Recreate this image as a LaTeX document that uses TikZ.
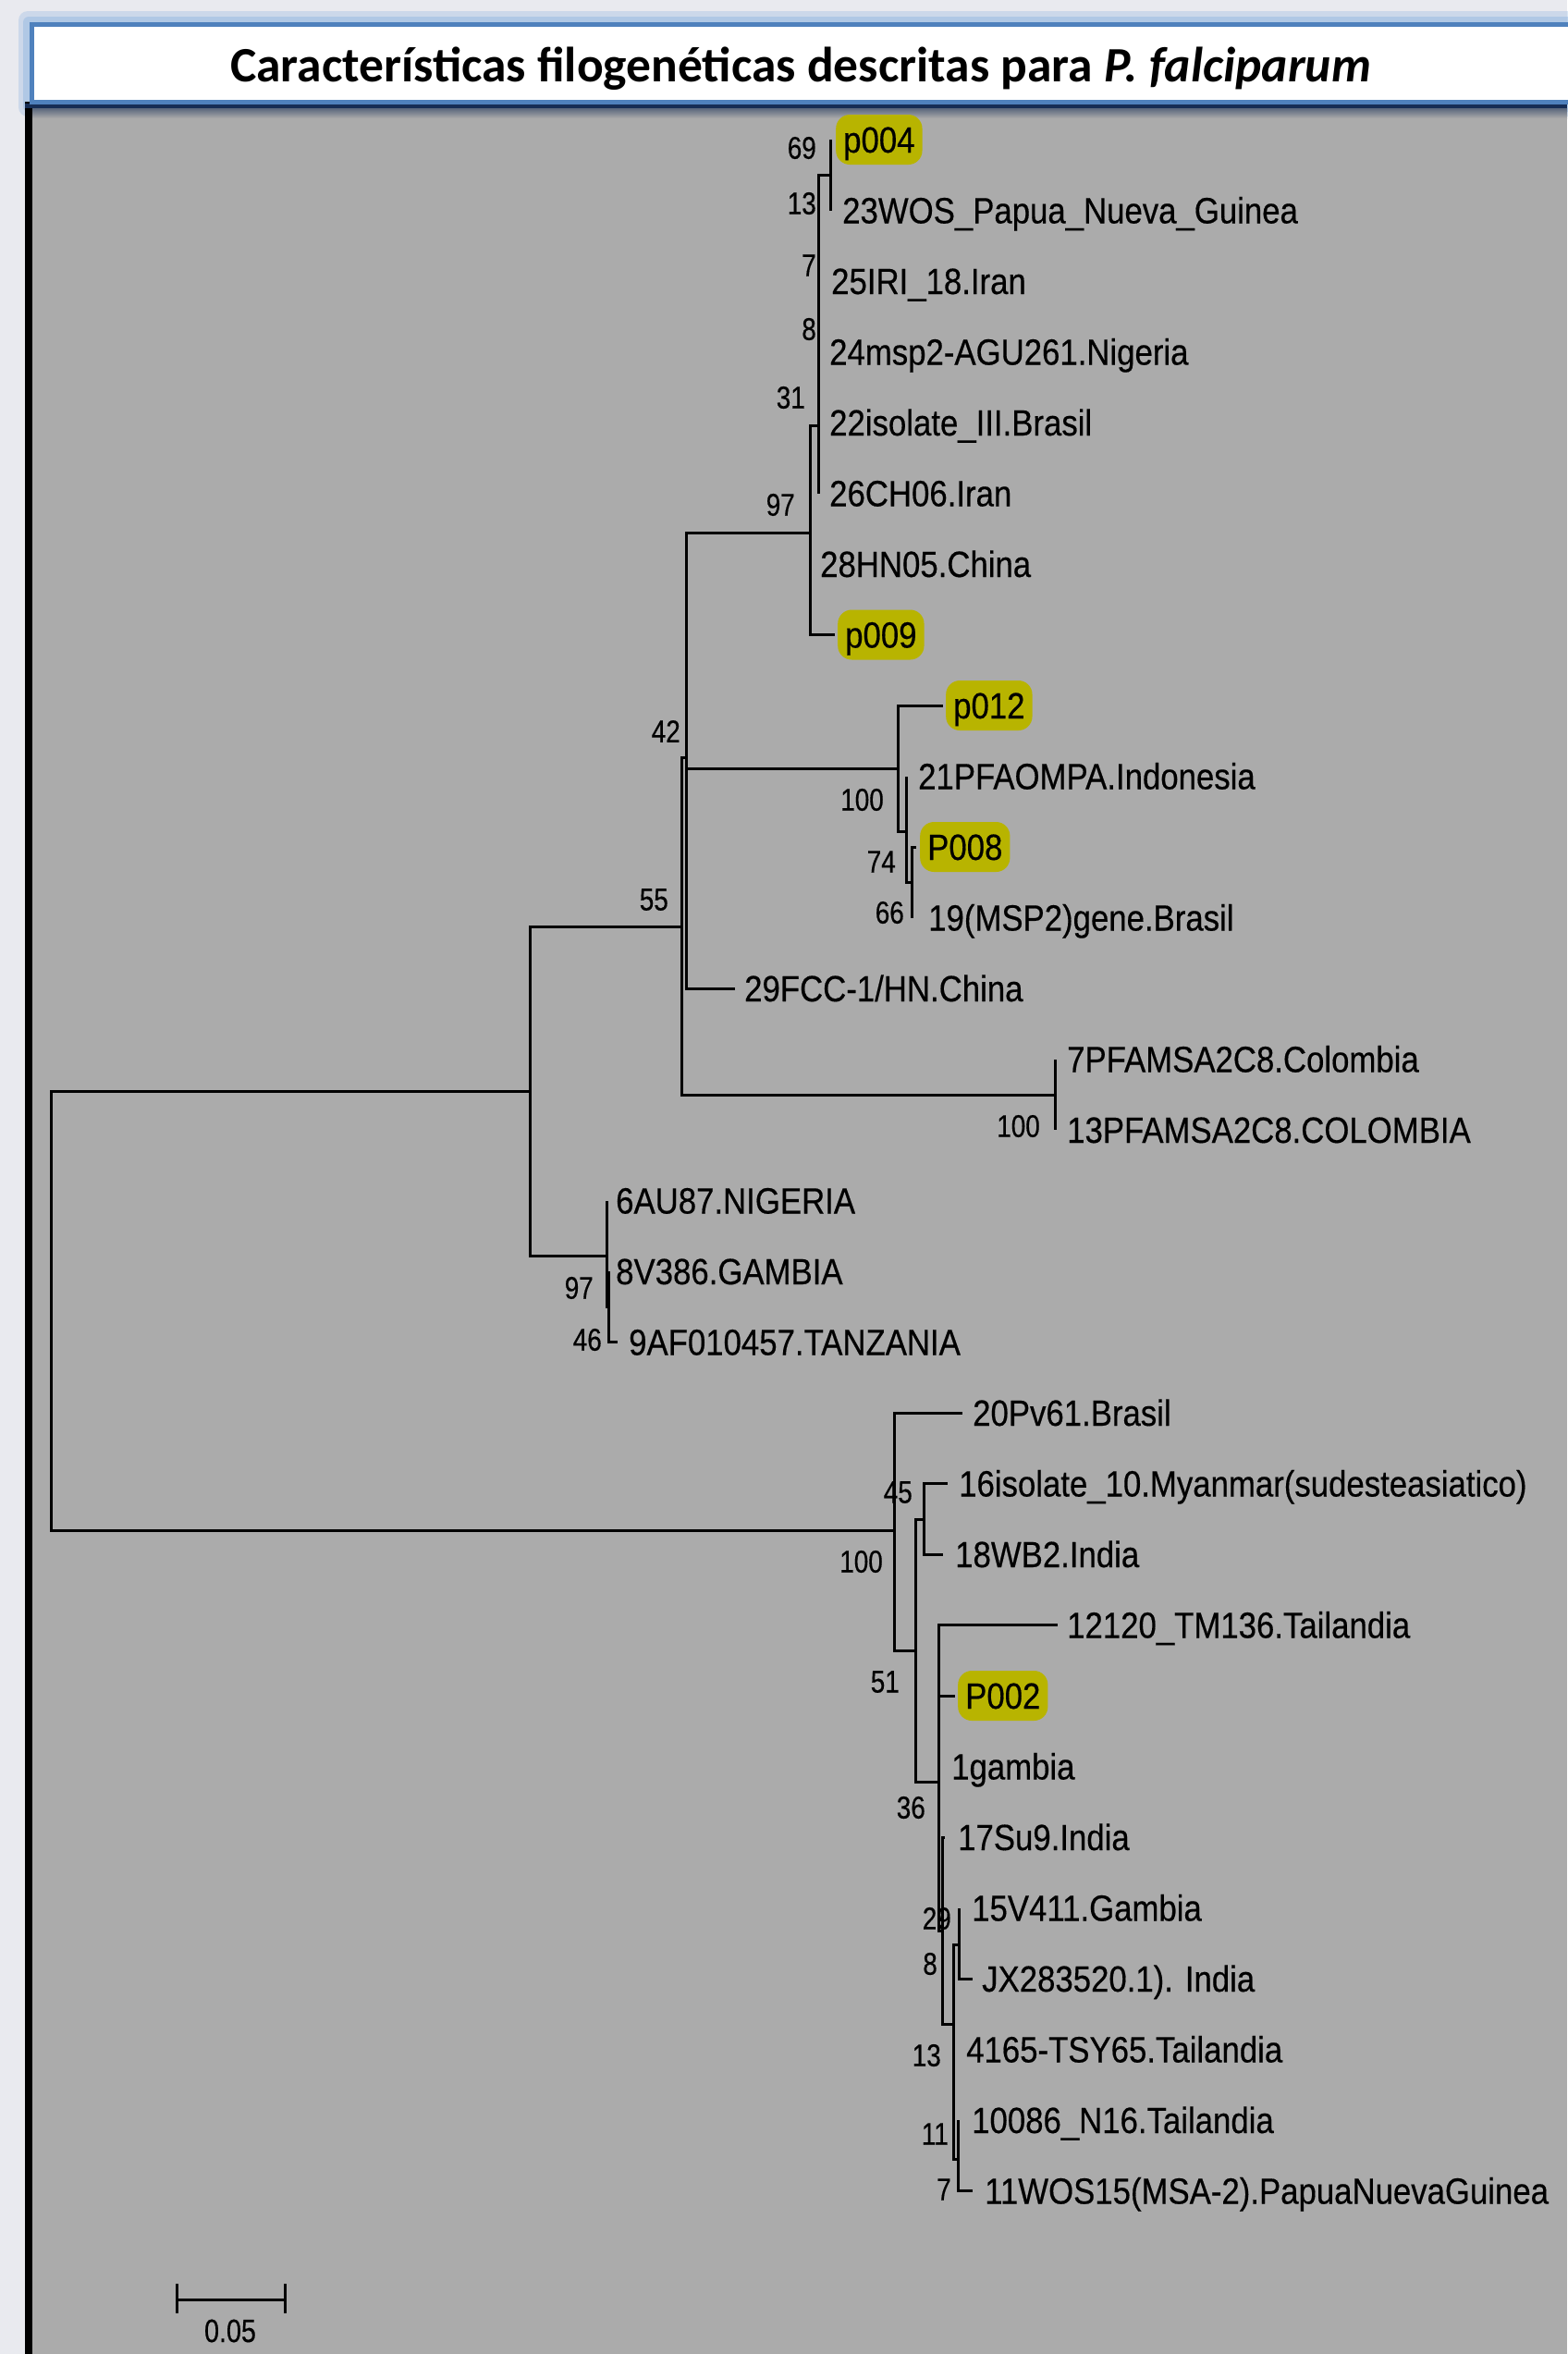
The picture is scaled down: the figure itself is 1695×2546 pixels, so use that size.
\documentclass[tikz,border=0pt]{standalone}
\usepackage{fontspec}
\setmainfont{Liberation Sans}
\newfontfamily\leaffont[FakeStretch=0.88,FakeBold=0.4]{Liberation Sans}
\newfontfamily\bsfont[FakeStretch=0.82,FakeBold=0.4]{Liberation Sans}
\newfontfamily\titlefont{Carlito}
\definecolor{bgc}{RGB}{233,234,239}
\definecolor{panelc}{RGB}{171,171,171}
\definecolor{hlc}{RGB}{184,180,0}
\definecolor{frameblue}{RGB}{79,129,189}
\definecolor{glowblue}{RGB}{150,185,225}
\definecolor{darkband}{RGB}{22,45,85}
\begin{document}
\begin{tikzpicture}[x=1pt,y=-1pt,
  br/.style={line width=3pt, black},
  leaf/.style={anchor=base west, inner sep=0pt, font=\leaffont\fontsize{39.5}{40}\selectfont},
  hl/.style={leaf, fill=hlc, rounded corners=15pt, inner xsep=8pt, inner ysep=13pt, text height=28pt, text depth=0pt},
  bs/.style={anchor=east, inner sep=0pt, font=\bsfont\fontsize{34}{35}\selectfont},
  titletext/.style={anchor=base, inner sep=0pt, font=\titlefont\bfseries\fontsize{53.5}{60}\selectfont}
]
\useasboundingbox (0,0) rectangle (1695,2546);
% background and frame
\fill[bgc] (0,0) rectangle (1695,2546);
\fill[glowblue, opacity=0.35, rounded corners=10pt] (20,12) rectangle (1710,126);
\fill[glowblue, opacity=0.5, rounded corners=6pt] (25,18) rectangle (1710,121);
\fill[panelc] (34,113) rectangle (1695,2546);
\fill[black] (27,110) rectangle (35,2546);
\fill[darkband] (27,112) rectangle (1695,117);
\shade[top color=darkband!55!panelc, bottom color=panelc] (35,117) rectangle (1695,128);
\draw[frameblue, line width=5pt, fill=white] (34.5,26.5) rectangle (1710,110.5);
\node[titletext] (title) at (866,88) {Características filogenéticas descritas para \textit{P. falciparum}};

% internal nodes
\coordinate (nR) at (55,1417.5);
\coordinate (nA) at (573,1180);
\coordinate (n55) at (737,1002);
\coordinate (n42) at (742,819);
\coordinate (n97) at (876,576);
\coordinate (n31) at (885,460);
\coordinate (n69) at (898,189);
\coordinate (n100a) at (971,831);
\coordinate (n74) at (980,899);
\coordinate (n66) at (986,954);
\coordinate (nCol) at (1141,1184);
\coordinate (n97b) at (656,1358);
\coordinate (n46) at (658,1413);
\coordinate (nB) at (967,1655);
\coordinate (n51) at (990,1785);
\coordinate (n45) at (999,1643);
\coordinate (n36) at (1015,1927);
\coordinate (n29) at (1019,2088);
\coordinate (n13) at (1031,2189);
\coordinate (n8) at (1037,2103);
\coordinate (n11) at (1036,2335);

% leaf tips
\coordinate (l1) at (898,151);
\coordinate (l2) at (898,227.5);
\coordinate (l3) at (885,304);
\coordinate (l4) at (885,380.5);
\coordinate (l5) at (885,457);
\coordinate (l6) at (885,533.5);
\coordinate (l7) at (876,610);
\coordinate (l8) at (903,686.5);
\coordinate (l9) at (1020,763);
\coordinate (l10) at (980,839.5);
\coordinate (l11) at (991,916);
\coordinate (l12) at (986,992.5);
\coordinate (l13) at (795,1069);
\coordinate (l14) at (1141,1145.5);
\coordinate (l15) at (1141,1222);
\coordinate (l16) at (656,1298.5);
\coordinate (l17) at (658,1375);
\coordinate (l18) at (668,1451.5);
\coordinate (l19) at (1041,1528);
\coordinate (l20) at (1025,1604.5);
\coordinate (l21) at (1020,1681);
\coordinate (l22) at (1144,1757.5);
\coordinate (l23) at (1033,1834);
\coordinate (l24) at (1015,1910.5);
\coordinate (l25) at (1022,1987);
\coordinate (l26) at (1037,2063.5);
\coordinate (l27) at (1052,2140);
\coordinate (l28) at (1031,2216.5);
\coordinate (l29) at (1036,2293);
\coordinate (l30) at (1052,2369.5);

% branches
\draw[br] (nR) |- (nA);
\draw[br] (nR) |- (nB);
\draw[br] (nA) |- (n55);
\draw[br] (nA) |- (n97b);
\draw[br] (n55) |- (n42);
\draw[br] (n55) |- (nCol);
\draw[br] (n42) |- (n97);
\draw[br] (n42) |- (n100a);
\draw[br] (n42) |- (l13);
\draw[br] (n97) |- (n31);
\draw[br] (n97) |- (l7);
\draw[br] (n97) |- (l8);
\draw[br] (n31) |- (n69);
\draw[br] (n31) |- (l3);
\draw[br] (n31) |- (l4);
\draw[br] (n31) |- (l5);
\draw[br] (n31) |- (l6);
\draw[br] (n69) |- (l1);
\draw[br] (n69) |- (l2);
\draw[br] (n100a) |- (l9);
\draw[br] (n100a) |- (n74);
\draw[br] (n74) |- (l10);
\draw[br] (n74) |- (n66);
\draw[br] (n66) |- (l11);
\draw[br] (n66) |- (l12);
\draw[br] (nCol) |- (l14);
\draw[br] (nCol) |- (l15);
\draw[br] (n97b) |- (l16);
\draw[br] (n97b) |- (n46);
\draw[br] (n46) |- (l17);
\draw[br] (n46) |- (l18);
\draw[br] (nB) |- (l19);
\draw[br] (nB) |- (n51);
\draw[br] (n51) |- (n45);
\draw[br] (n51) |- (n36);
\draw[br] (n45) |- (l20);
\draw[br] (n45) |- (l21);
\draw[br] (n36) |- (l22);
\draw[br] (n36) |- (l23);
\draw[br] (n36) |- (l24);
\draw[br] (n36) |- (n29);
\draw[br] (n29) |- (l25);
\draw[br] (n29) |- (n13);
\draw[br] (n13) |- (n8);
\draw[br] (n13) |- (l28);
\draw[br] (n13) |- (n11);
\draw[br] (n8) |- (l26);
\draw[br] (n8) |- (l27);
\draw[br] (n11) |- (l29);
\draw[br] (n11) |- (l30);

% leaf labels
\node[hl] (t1) at (904,165) {p004};
\node[leaf] (t2) at (911,241.5) {23WOS\_Papua\_Nueva\_Guinea};
\node[leaf] (t3) at (899,318) {25IRI\_18.Iran};
\node[leaf] (t4) at (897,394.5) {24msp2-AGU261.Nigeria};
\node[leaf] (t5) at (897,471) {22isolate\_III.Brasil};
\node[leaf] (t6) at (897,547.5) {26CH06.Iran};
\node[leaf] (t7) at (887,624) {28HN05.China};
\node[hl] (t8) at (906,700.5) {p009};
\node[hl] (t9) at (1023,777) {p012};
\node[leaf] (t10) at (993,853.5) {21PFAOMPA.Indonesia};
\node[hl] (t11) at (995,930) {P008};
\node[leaf] (t12) at (1004,1006.5) {19(MSP2)gene.Brasil};
\node[leaf] (t13) at (805,1083) {29FCC-1/HN.China};
\node[leaf] (t14) at (1154,1159.5) {7PFAMSA2C8.Colombia};
\node[leaf] (t15) at (1154,1236) {13PFAMSA2C8.COLOMBIA};
\node[leaf] (t16) at (666,1312.5) {6AU87.NIGERIA};
\node[leaf] (t17) at (666,1389) {8V386.GAMBIA};
\node[leaf] (t18) at (680,1465.5) {9AF010457.TANZANIA};
\node[leaf] (t19) at (1052,1542) {20Pv61.Brasil};
\node[leaf] (t20) at (1037,1618.5) {16isolate\_10.Myanmar(sudesteasiatico)};
\node[leaf] (t21) at (1033,1695) {18WB2.India};
\node[leaf] (t22) at (1154,1771.5) {12120\_TM136.Tailandia};
\node[hl] (t23) at (1036,1848) {P002};
\node[leaf] (t24) at (1029,1924.5) {1gambia};
\node[leaf] (t25) at (1036,2001) {17Su9.India};
\node[leaf] (t26) at (1051,2077.5) {15V411.Gambia};
\node[leaf] (t27) at (1062,2154) {JX283520.1). India};
\node[leaf] (t28) at (1045,2230.5) {4165-TSY65.Tailandia};
\node[leaf] (t29) at (1051,2307) {10086\_N16.Tailandia};
\node[leaf] (t30) at (1065,2383.5) {11WOS15(MSA-2).PapuaNuevaGuinea};

% bootstrap values
\node[bs] (b69) at (883,160) {69};
\node[bs] (b13a) at (883,220) {13};
\node[bs] (b7a) at (883,287) {7};
\node[bs] (b8a) at (883,356) {8};
\node[bs] (b31) at (871,430) {31};
\node[bs] (b97a) at (860,546) {97};
\node[bs] (b42) at (736,791) {42};
\node[bs] (b55) at (723,973) {55};
\node[bs] (b100a) at (956,865) {100};
\node[bs] (b74) at (969,932) {74};
\node[bs] (b66) at (978,987) {66};
\node[bs] (b100c) at (1125,1218) {100};
\node[bs] (b97b) at (642,1393) {97};
\node[bs] (b46) at (651,1449) {46};
\node[bs] (b45) at (987,1614) {45};
\node[bs] (b100b) at (955,1689) {100};
\node[bs] (b51) at (973,1819) {51};
\node[bs] (b36) at (1001,1955) {36};
\node[bs] (b29) at (1029,2075) {29};
\node[bs] (b8b) at (1014,2124) {8};
\node[bs] (b13b) at (1018,2223) {13};
\node[bs] (b11) at (1026,2308) {11};
\node[bs] (b7b) at (1029,2368) {7};

% scale bar
\coordinate (sbL) at (191,2487);
\coordinate (sbR) at (308,2487);
\coordinate (sbLt) at (191,2470);
\coordinate (sbLb) at (191,2502);
\coordinate (sbRt) at (308,2470);
\coordinate (sbRb) at (308,2502);
\draw[br] (sbL) -- (sbR);
\draw[br] (sbLt) -- (sbLb);
\draw[br] (sbRt) -- (sbRb);
\node[bs, anchor=center, font=\bsfont\fontsize{35}{36}\selectfont] (sbtext) at (249,2521) {0.05};
\end{tikzpicture}
\end{document}
